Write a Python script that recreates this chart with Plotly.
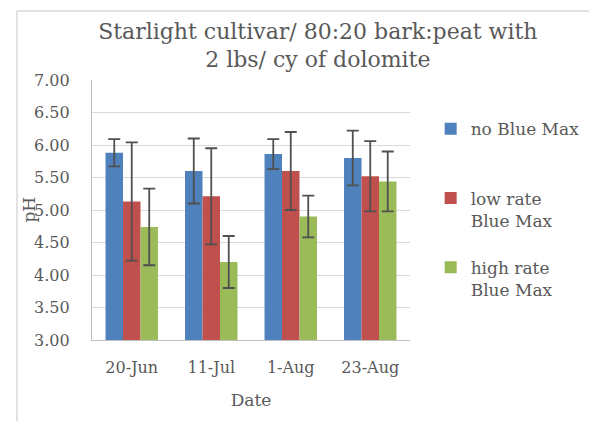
import plotly.graph_objects as go

dates = ["20-Jun", "11-Jul", "1-Aug", "23-Aug"]
series_names = ["no Blue Max<br>&nbsp;", "low rate<br>Blue Max", "high rate<br>Blue Max"]
no_blue = [5.88, 5.60, 5.86, 5.80]
no_blue_err = [0.21, 0.50, 0.23, 0.42]
low_rate = [5.13, 5.21, 5.60, 5.52]
low_rate_err = [0.91, 0.74, 0.60, 0.54]
high_rate = [4.74, 4.20, 4.90, 5.44]
high_rate_err = [0.59, 0.40, 0.32, 0.46]
y_ticks = [3.0, 3.5, 4.0, 4.5, 5.0, 5.5, 6.0, 6.5, 7.0]

colors = ["#4F81BD", "#C0504D", "#9BBB59"]
FONT = "DejaVu Serif"
TXT = "#595959"

W, H = 589, 413
L, T, PW, PH = 84, 72, 356, 260

fig = go.Figure()
for i, (name, vals, errs) in enumerate(zip(series_names,
                                           [no_blue, low_rate, high_rate],
                                           [no_blue_err, low_rate_err, high_rate_err])):
    fig.add_trace(go.Bar(
        x=dates, y=vals, name=name, legendgroup=f"g{i}",
        marker=dict(color=colors[i], line=dict(width=0)),
        error_y=dict(type="data", array=errs, visible=True,
                     color="#505050", thickness=1.8, width=6),
    ))

fig.update_layout(
    width=W, height=H,
    margin=dict(l=L, r=W - L - PW, t=T, b=H - T - PH),
    paper_bgcolor="white", plot_bgcolor="white",
    barmode="group", bargap=0.34, bargroupgap=0,
    font=dict(family=FONT, color=TXT, size=16),
    title=dict(text="Starlight cultivar/ 80:20 bark:peat with<br>2 lbs/ cy of dolomite",
               xref="container", x=0.526, xanchor="center",
               yref="container", y=0.926, yanchor="top",
               font=dict(family=FONT, size=22, color=TXT)),
    showlegend=True,
    legend=dict(x=1.065, xanchor="left", y=0.88, yanchor="top",
                font=dict(family=FONT, size=17, color=TXT),
                valign="top", tracegroupgap=22, itemwidth=30, traceorder="grouped"),
    xaxis=dict(showline=True, linecolor="#BFBFBF", linewidth=1.2,
               ticks="", tickfont=dict(family=FONT, size=16, color=TXT),
               ticklabelstandoff=13,
               title=dict(text="Date", font=dict(family=FONT, size=17, color=TXT), standoff=17)),
    yaxis=dict(range=[3, 7], tickvals=y_ticks, tickformat=".2f",
               showline=True, linecolor="#BFBFBF", linewidth=1.2,
               gridcolor="#D9D9D9", gridwidth=1.3, zeroline=False,
               tickfont=dict(family=FONT, size=16, color=TXT),
               ticklabelstandoff=18),
    shapes=[
        dict(type="line", xref="paper", yref="paper", x0=-84 / PW, x1=2, y0=1 + 69 / PH, y1=1 + 69 / PH,
             line=dict(color="#D9D9D9", width=1.5)),
        dict(type="line", xref="paper", yref="paper", x0=-84 / PW, x1=-84 / PW, y0=-2, y1=1 + 69 / PH,
             line=dict(color="#D9D9D9", width=1.5)),
    ],
    annotations=[
        dict(text="pH", xref="paper", yref="paper", x=-71 / PW, y=0.5,
             xanchor="center", yanchor="middle", textangle=-90, showarrow=False,
             font=dict(family=FONT, size=17, color=TXT)),
    ],
)

fig.write_html("out.html")
